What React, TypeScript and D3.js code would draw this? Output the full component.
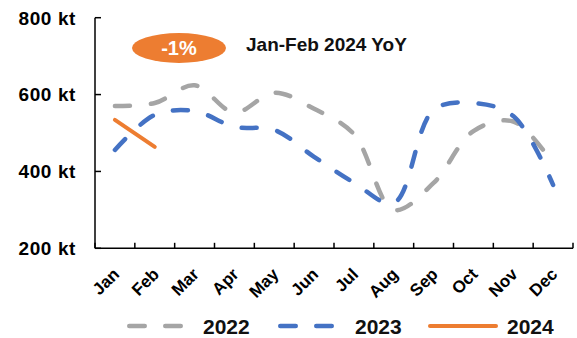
import React from "react";
import * as d3 from "d3";

const months = ["Jan", "Feb", "Mar", "Apr", "May", "Jun", "Jul", "Aug", "Sep", "Oct", "Nov", "Dec"];
const values2022 = [570, 578, 624, 553, 605, 563, 497, 300, 370, 505, 530, 420];
const values2023 = [456, 547, 557, 516, 508, 438, 371, 318, 560, 578, 544, 365];
const values2024 = [534, 464];
const yTicks = [200, 400, 600, 800];
const seriesNames = ["2022", "2023", "2024"];
const annotationValue = "-1%";
const annotationLabel = "Jan-Feb 2024 YoY";

const W = 577;
const H = 338;
const FONT = "'Liberation Sans', Arial, sans-serif";
const GRAY = "#A5A5A5";
const BLUE = "#4472C4";
const ORANGE = "#ED7D31";

export default function App() {
  const x = d3.scaleBand<string>().domain(months).range([95, 573]).padding(0);
  const y = d3.scaleLinear().domain([200, 800]).range([248.3, 17.7]);
  const cx = (m: string) => (x(m) as number) + x.bandwidth() / 2;

  const smooth = d3
    .line<number>()
    .x((_, i) => cx(months[i]))
    .y((d) => y(d))
    .curve(d3.curveCatmullRom.alpha(0.5));
  const straight = d3
    .line<number>()
    .x((_, i) => cx(months[i]))
    .y((d) => y(d));

  const dash = "15 21";
  const sw = 4.5;

  return (
    <svg
      width={W}
      height={H}
      style={{ position: "absolute", left: 0, top: 0, background: "#fff" }}
      fontFamily={FONT}
      fontWeight="bold"
    >
      {/* y axis */}
      <line x1={95} x2={95} y1={y(800)} y2={y(200)} stroke="#000" strokeWidth={1.5} />
      {yTicks.map((t) => (
        <g key={t}>
          <line x1={95} x2={101} y1={y(t)} y2={y(t)} stroke="#000" strokeWidth={1.5} />
          <text x={76} y={y(t)} dy="0.36em" textAnchor="end" fontSize={19} fill="#000" letterSpacing={0.6}>
            {t} kt
          </text>
        </g>
      ))}
      {/* x axis */}
      <line x1={95} x2={573} y1={y(200)} y2={y(200)} stroke="#000" strokeWidth={1.5} />
      {d3.range(months.length + 1).map((i) => {
        const xx = i < months.length ? (x(months[i]) as number) : 573;
        return <line key={i} x1={xx} x2={xx} y1={y(200)} y2={y(200) - 5.5} stroke="#000" strokeWidth={1.5} />;
      })}
      {months.map((m) => (
        <text
          key={m}
          transform={`translate(${cx(m) + 1},${271}) rotate(-45)`}
          textAnchor="end"
          dy="0.36em"
          fontSize={17}
          fill="#000"
        >
          {m}
        </text>
      ))}

      {/* series */}
      <path d={smooth(values2022) || ""} fill="none" stroke={GRAY} strokeWidth={sw} strokeDasharray={dash} strokeLinecap="round" />
      <path d={smooth(values2023) || ""} fill="none" stroke={BLUE} strokeWidth={sw} strokeDasharray={dash} strokeLinecap="round" />
      <path d={straight(values2024) || ""} fill="none" stroke={ORANGE} strokeWidth={4} strokeLinecap="round" />

      {/* annotation */}
      <ellipse cx={179} cy={48} rx={47} ry={15} fill={ORANGE} />
      <text x={179} y={54.5} textAnchor="middle" fontSize={20} fill="#fff">
        {annotationValue}
      </text>
      <text x={246} y={51} fontSize={19} fill="#111">
        {annotationLabel}
      </text>

      {/* legend */}
      <line x1={129.25} x2={180.75} y1={326} y2={326} stroke={GRAY} strokeWidth={sw} strokeDasharray="15.5 20.5" strokeLinecap="round" />
      <text x={203} y={333.5} fontSize={21} fill="#111">{seriesNames[0]}</text>
      <line x1={280.25} x2={332.75} y1={326} y2={326} stroke={BLUE} strokeWidth={sw} strokeDasharray="15.5 20.5" strokeLinecap="round" />
      <text x={355} y={333.5} fontSize={21} fill="#111">{seriesNames[1]}</text>
      <line x1={430} x2={496} y1={326} y2={326} stroke={ORANGE} strokeWidth={4} strokeLinecap="round" />
      <text x={507} y={333.5} fontSize={21} fill="#111">{seriesNames[2]}</text>
    </svg>
  );
}
